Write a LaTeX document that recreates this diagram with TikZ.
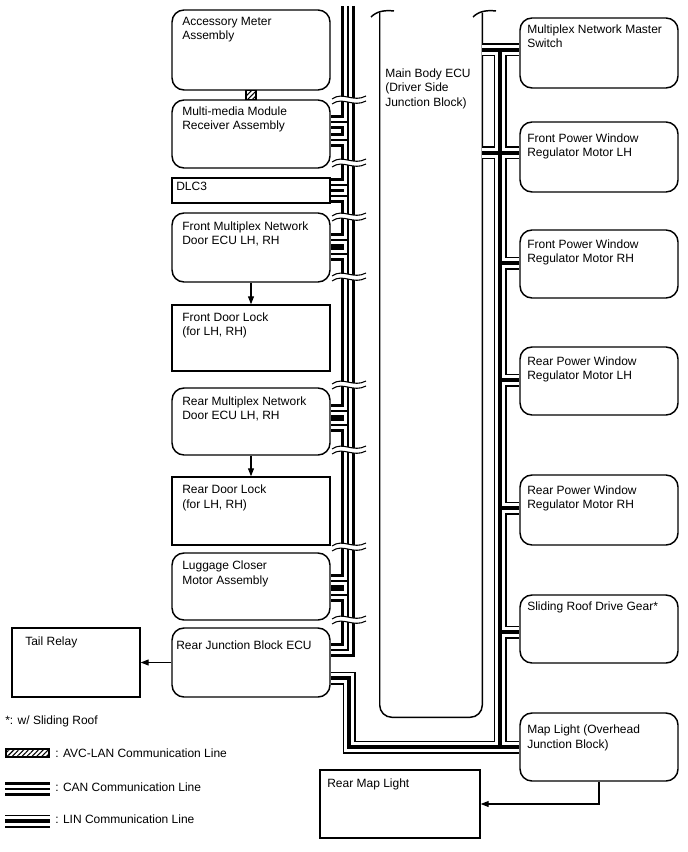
\documentclass[tikz,border=0pt]{standalone}
\usepackage{fontspec}
\setmainfont{Liberation Sans}
\usetikzlibrary{arrows.meta,patterns.meta,fit}
\tikzset{
  bx/.style={draw, line width=1.1pt, inner sep=0pt, rounded corners=9pt},
  sq/.style={draw, line width=1.1pt, inner sep=0pt},
  lbl/.style={anchor=north west, align=left, inner sep=0pt, font=\fontsize{9}{10.9}\selectfont},
  arr/.style={line width=0.8pt, -{Triangle[length=6pt,width=4.5pt]}},
  canA/.style={line width=11pt, black},
  canB/.style={line width=6pt, white},
  canC/.style={line width=1.2pt, black},
  linA/.style={line width=9.75pt, black},
  linB/.style={line width=8.2pt, white},
  linC/.style={line width=2.4pt, black},
  thinline/.style={line width=0.8pt},
  hatch/.style={pattern={Lines[angle=45,distance=2.6pt,line width=0.8pt]}}
}
\newcommand\cannet[1]{%
  \draw[#1] (busTop) -- (busBot) -- (rjb.east |- busBot);
  \foreach \b/\ya/\yb in {mm/122/140, dlc/185/196, fecu/240/254, recu/411/425, lug/581/595}{%
    \draw[#1] (348,\ya) -- (\b.east |- 0,\ya);
    \draw[#1] (348,\yb) -- (\b.east |- 0,\yb);}
}
\newcommand\linnet[1]{%
  \draw[#1] (ecu.east |- 0,50) -- (master.west |- 0,50);
  \draw[#1] (rbTop) -- (rbBot);
  \draw[#1] (ecu.east |- 0,153) -- (fwl.west |- 0,153);
  \foreach \b/\y in {fwr/263, rwl/380, rwr/508, sr/632}{%
    \draw[#1] (500,\y) -- (\b.west |- 0,\y);}
  \draw[#1] (rjb.east |- 0,678) -- (349,678) -- (349,747) -- (ml.west |- 0,747);
}
\newcommand\brk[2]{%
  \fill[white] (#1-17,#2+1) .. controls (#1-6,#2-7) and (#1+4,#2+5) .. (#1+17,#2-2)
     -- (#1+17,#2+3) .. controls (#1+4,#2+10) and (#1-6,#2-2) .. (#1-17,#2+6) -- cycle;
  \draw[thinline] (#1-17,#2+1) .. controls (#1-6,#2-7) and (#1+4,#2+5) .. (#1+17,#2-2);
  \draw[thinline] (#1-17,#2+6) .. controls (#1-6,#2-2) and (#1+4,#2+10) .. (#1+17,#2+3);
}
\begin{document}
\begin{tikzpicture}[x=0.75pt,y=-0.75pt]
\useasboundingbox (0,0) rectangle (688,852);
% left column boxes
\node[bx, fit={(172,10)(330,90)}] (acc) {};
\node[bx, fit={(172,100)(330,168)}] (mm) {};
\node[sq, fit={(172,178)(330,203)}] (dlc) {};
\node[bx, fit={(172,213)(330,282)}] (fecu) {};
\node[sq, fit={(172,305)(330,371)}] (fdl) {};
\node[bx, fit={(172,388)(330,455)}] (recu) {};
\node[sq, fit={(172,477)(330,545)}] (rdl) {};
\node[bx, fit={(172,553)(330,620)}] (lug) {};
\node[bx, fit={(172,628)(330,697)}] (rjb) {};
\node[sq, fit={(12,628)(140,697)}] (tail) {};
% right column boxes
\node[bx, fit={(520,18)(678,88)}] (master) {};
\node[bx, fit={(520,122)(678,192)}] (fwl) {};
\node[bx, fit={(520,230)(678,298)}] (fwr) {};
\node[bx, fit={(520,347)(678,415)}] (rwl) {};
\node[bx, fit={(520,475)(678,545)}] (rwr) {};
\node[bx, fit={(520,595)(678,663)}] (sr) {};
\node[bx, fit={(520,713)(678,781)}] (ml) {};
\node[sq, fit={(320,770)(480,838)}] (rml) {};
% main body ECU
\node[inner sep=0pt, fit={(380,13)(482,717)}] (ecu) {};
\draw[line width=1.1pt, rounded corners=9pt] (ecu.north west) -- (ecu.south west) -- (ecu.south east) -- (ecu.north east);
\draw[line width=1.1pt] (371,17) .. controls (377,11) and (385,10) .. (394,11);
\draw[line width=1.1pt] (473,17) .. controls (479,11) and (487,10) .. (496,11);
% labels
\node[lbl] (tacc) at (182,16.5) {Accessory Meter\\Assembly};
\node[lbl] (tmm) at (182,106.5) {Multi-media Module\\Receiver Assembly};
\node[lbl] (tdlc) at (176,181.5) {DLC3};
\node[lbl] (tfecu) at (182,221.5) {Front Multiplex Network\\Door ECU LH, RH};
\node[lbl] (tfdl) at (182,312.5) {Front Door Lock\\(for LH, RH)};
\node[lbl] (trecu) at (182,396.5) {Rear Multiplex Network\\Door ECU LH, RH};
\node[lbl] (trdl) at (182,484.5) {Rear Door Lock\\(for LH, RH)};
\node[lbl] (tlug) at (182,560.5) {Luggage Closer\\Motor Assembly};
\node[lbl] (trjb) at (176,640.5) {Rear Junction Block ECU};
\node[lbl] (ttail) at (25,636.5) {Tail Relay};
\node[lbl] (tecu) at (385,68.5) {Main Body ECU\\(Driver Side\\Junction Block)};
\node[lbl] (tmaster) at (527,24.5) {Multiplex Network Master\\Switch};
\node[lbl] (tfwl) at (527,133.5) {Front Power Window\\Regulator Motor LH};
\node[lbl] (tfwr) at (527,239.5) {Front Power Window\\Regulator Motor RH};
\node[lbl] (trwl) at (527,356.5) {Rear Power Window\\Regulator Motor LH};
\node[lbl] (trwr) at (527,485.5) {Rear Power Window\\Regulator Motor RH};
\node[lbl] (tsr) at (527,601.5) {Sliding Roof Drive Gear*};
\node[lbl] (tml) at (527,724.5) {Map Light (Overhead\\Junction Block)};
\node[lbl] (trml) at (327,778.5) {Rear Map Light};
% bus coordinates
\coordinate (busTop) at (348,6);
\coordinate (busBot) at (348,650);
\coordinate (rbTop) at (500,50);
\coordinate (rbBot) at (500,747);
% CAN network
\cannet{canA}\cannet{canB}\cannet{canC}
% LIN network
\linnet{linA}\linnet{linB}\linnet{linC}
% break marks on left bus
\foreach \y in {98,161,215,275,383,448,545,618}{\brk{349}{\y}}
% AVC-LAN connector
\draw[line width=0.9pt, hatch] ([xshift=-3.75pt]acc.south) rectangle ([xshift=3.75pt]mm.north);
% arrows
\draw[arr] (fecu.south) -- (fdl.north);
\draw[arr] (recu.south) -- (rdl.north);
\draw[arr] (rjb.west) -- (tail.east);
\draw[arr] (ml.south) |- (rml.east);
% legend
\node[lbl] (tstar) at (5,715.5) {*: w/ Sliding Roof};
\node[draw, line width=1.6pt, inner sep=0pt, hatch, fit={(6,749)(49,757)}] (lgavc) {};
\node[lbl] (tlgavc) at (55,748.5) {: AVC-LAN Communication Line};
\coordinate (lgc1) at (5,789); \coordinate (lgc2) at (50,789);
\draw[canA] (lgc1) -- (lgc2); \draw[canB] (lgc1) -- (lgc2); \draw[canC] (lgc1) -- (lgc2);
\node[lbl] (tlgcan) at (55,782.5) {: CAN Communication Line};
\coordinate (lgl1) at (5,821); \coordinate (lgl2) at (50,821);
\draw[linA] (lgl1) -- (lgl2); \draw[linB] (lgl1) -- (lgl2); \draw[linC] (lgl1) -- (lgl2);
\node[lbl] (tlglin) at (55,814.5) {: LIN Communication Line};
\end{tikzpicture}
\end{document}
